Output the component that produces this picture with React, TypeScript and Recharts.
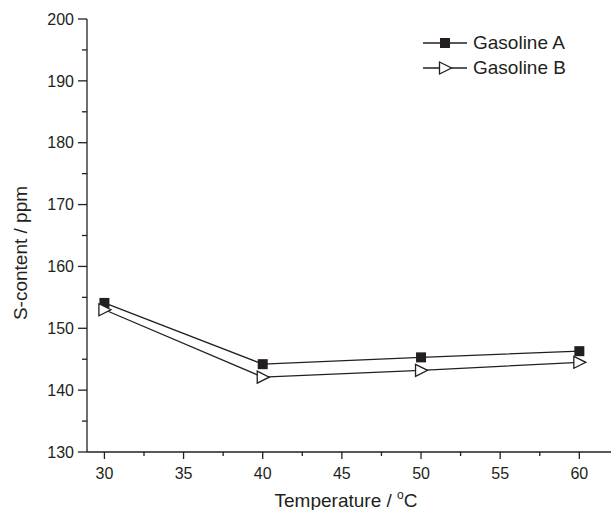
import { LineChart, Line, XAxis, YAxis, Legend } from "recharts";

const temperatures = [30, 40, 50, 60];
const gasolineA = [154.1, 144.2, 145.3, 146.3];
const gasolineB = [153.0, 142.1, 143.2, 144.5];

const xTicks = [30, 32.5, 35, 37.5, 40, 42.5, 45, 47.5, 50, 52.5, 55, 57.5, 60];
const yTicks = [130, 135, 140, 145, 150, 155, 160, 165, 170, 175, 180, 185, 190, 195, 200];
const seriesNames = ["Gasoline A", "Gasoline B"];

const data = temperatures.map((t, i) => ({ t, a: gasolineA[i], b: gasolineB[i] }));

const INK = "#231f20";
const FONT = "'Liberation Sans', Arial, sans-serif";

function Square({ cx, cy }: any) {
  if (cx == null || cy == null) return null;
  return <rect x={cx - 5} y={cy - 5} width={10} height={10} fill={INK} />;
}

function Triangle({ cx, cy }: any) {
  if (cx == null || cy == null) return null;
  return (
    <path
      d={`M${cx - 5.5},${cy - 6} L${cx + 6.5},${cy} L${cx - 5.5},${cy + 6} Z`}
      fill="#fff"
      stroke={INK}
      strokeWidth={1.3}
    />
  );
}

function YTick({ x, y, payload }: any) {
  const major = payload.value % 10 === 0;
  return (
    <g>
      <line x1={x - (major ? 9 : 5)} x2={x} y1={y} y2={y} stroke={INK} strokeWidth={1.3} />
      {major && (
        <text x={x - 13} y={y} dy="0.36em" textAnchor="end" fontSize={16} fill={INK} fontFamily={FONT}>
          {payload.value}
        </text>
      )}
    </g>
  );
}

function XTick({ x, y, payload }: any) {
  const major = payload.value % 5 === 0;
  return (
    <g>
      <line x1={x} x2={x} y1={y} y2={y + (major ? 7 : 4)} stroke={INK} strokeWidth={1.3} />
      {major && (
        <text x={x} y={y + 26.5} textAnchor="middle" fontSize={16} fill={INK} fontFamily={FONT}>
          {payload.value}
        </text>
      )}
    </g>
  );
}

function TopTick({ x, y }: any) {
  return <line x1={x} x2={x} y1={y} y2={y + 4} stroke={INK} strokeWidth={1.3} />;
}

function XTitle() {
  return (
    <text x={346} y={507} textAnchor="middle" fontSize={19} fill={INK} fontFamily={FONT}>
      Temperature /{" "}
      <tspan fontSize={12} dy={-8}>o</tspan>
      <tspan dy={8}>C</tspan>
    </text>
  );
}

function YTitle() {
  return (
    <text
      x={20}
      y={253}
      transform="rotate(-90 20 253)"
      textAnchor="middle"
      dominantBaseline="central"
      fontSize={19}
      fill={INK}
      fontFamily={FONT}
    >
      S-content / ppm
    </text>
  );
}

function LegendBox() {
  return (
    <div style={{ fontFamily: FONT, color: INK }}>
      {seriesNames.map((name, i) => (
        <div key={name} style={{ display: "flex", alignItems: "center", height: 24.4 }}>
          <svg width={44} height={24}>
            <line x1={0} x2={44} y1={12} y2={12} stroke={INK} strokeWidth={1.3} />
            {i === 0 ? <Square cx={22} cy={12} /> : <Triangle cx={22} cy={12} />}
          </svg>
          <span style={{ marginLeft: 6, fontSize: 19, lineHeight: "24px" }}>{name}</span>
        </div>
      ))}
    </div>
  );
}

export default function App() {
  return (
    <div style={{ position: "absolute", left: 0, top: 0, background: "#fff" }}>
      <LineChart width={611} height={510} data={data} margin={{ top: 19, right: 0, bottom: 0, left: 0 }}>
        <XAxis
          dataKey="t"
          type="number"
          domain={[28.9, 62]}
          ticks={xTicks}
          interval={0}
          height={58}
          tickSize={0}
          tickMargin={0}
          tickLine={false}
          tick={(p: any) => <XTick {...p} />}
          axisLine={{ stroke: INK, strokeWidth: 1.3 }}
          label={<XTitle />}
        />
        <XAxis
          xAxisId="top"
          orientation="top"
          type="number"
          domain={[28.9, 62]}
          ticks={xTicks}
          interval={0}
          height={0}
          tickSize={0}
          tickMargin={0}
          tickLine={false}
          tick={(p: any) => <TopTick {...p} />}
          axisLine={{ stroke: INK, strokeWidth: 1.3 }}
        />
        <YAxis
          type="number"
          domain={[130, 200]}
          ticks={yTicks}
          interval={0}
          width={87}
          tickSize={0}
          tickMargin={0}
          tickLine={false}
          tick={(p: any) => <YTick {...p} />}
          axisLine={{ stroke: INK, strokeWidth: 1.3 }}
          label={<YTitle />}
        />
        <Legend
          layout="vertical"
          align="center"
          verticalAlign="middle"
          wrapperStyle={{ left: 423, top: 31, width: 190 }}
          content={() => <LegendBox />}
        />
        <Line
          type="linear"
          dataKey="a"
          name={seriesNames[0]}
          stroke={INK}
          strokeWidth={1.3}
          dot={(p: any) => <Square key={`a${p.index}`} {...p} />}
          isAnimationActive={false}
        />
        <Line
          type="linear"
          dataKey="b"
          name={seriesNames[1]}
          stroke={INK}
          strokeWidth={1.3}
          dot={(p: any) => <Triangle key={`b${p.index}`} {...p} />}
          isAnimationActive={false}
        />
      </LineChart>
    </div>
  );
}
